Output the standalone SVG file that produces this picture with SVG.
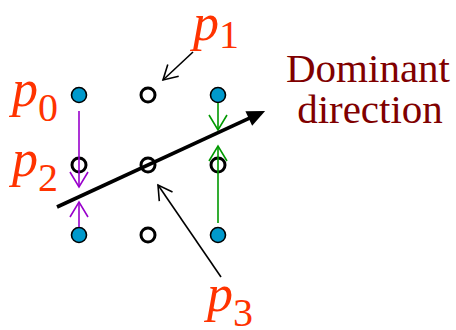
<svg xmlns="http://www.w3.org/2000/svg" width="456" height="330" viewBox="0 0 456 330">
<style>
.lbl{font-family:'Liberation Serif','DejaVu Serif',serif;fill:#FF3300;font-size:52px;font-style:italic}
.sub{font-style:normal;font-size:40px}
.title{font-family:'Liberation Serif','DejaVu Serif',serif;fill:#800000;font-size:41px;text-anchor:middle}
.dot{fill:#0099CC;stroke:#000;stroke-width:1.6}
.ring{fill:#fff;stroke:#000;stroke-width:3}
.pl{stroke:#9900CC;stroke-width:1.6;fill:none}
.gl{stroke:#009900;stroke-width:1.6;fill:none}
.bl{stroke:#000;stroke-width:1.6;fill:none}
</style>
<defs>
<marker id="cp" markerUnits="userSpaceOnUse" markerWidth="30" markerHeight="30" refX="0" refY="0" orient="auto" overflow="visible"><path d="M-15,-9 L0,0 L-15,9" fill="none" stroke="#9900CC" stroke-width="1.6"/></marker>
<marker id="cg" markerUnits="userSpaceOnUse" markerWidth="30" markerHeight="30" refX="0" refY="0" orient="auto" overflow="visible"><path d="M-15,-9 L0,0 L-15,9" fill="none" stroke="#009900" stroke-width="1.6"/></marker>
<marker id="cb" markerUnits="userSpaceOnUse" markerWidth="30" markerHeight="30" refX="0" refY="0" orient="auto" overflow="visible"><path d="M-14,-8 L0,0 L-14,8" fill="none" stroke="#000" stroke-width="1.6"/></marker>
<marker id="ab" markerUnits="userSpaceOnUse" markerWidth="30" markerHeight="30" refX="2" refY="0" orient="auto" overflow="visible"><path d="M0,-8 L18,0 L0,8 z" fill="#000"/></marker>
</defs>
<g id="nodes">
<g id="n00"><circle class="dot" cx="79" cy="95" r="7.5"/></g>
<g id="n10"><circle class="ring" cx="148" cy="95" r="7"/></g>
<g id="n20"><circle class="dot" cx="218" cy="95" r="7.5"/></g>
<g id="n01"><circle class="ring" cx="79" cy="165" r="7"/></g>
<g id="n11"><circle class="ring" cx="148" cy="165" r="7"/></g>
<g id="n21"><circle class="ring" cx="218" cy="165" r="7"/></g>
<g id="n02"><circle class="dot" cx="79" cy="235" r="7.5"/></g>
<g id="n12"><circle class="ring" cx="148" cy="235" r="7"/></g>
<g id="n22"><circle class="dot" cx="218" cy="235" r="7.5"/></g>
</g>
<g id="connectors">
<line class="pl" x1="79" y1="111" x2="79" y2="187" marker-end="url(#cp)"/>
<line class="pl" x1="79" y1="227" x2="79" y2="202" marker-end="url(#cp)"/>
<line class="gl" x1="218" y1="103" x2="218" y2="130" marker-end="url(#cg)"/>
<line class="gl" x1="218" y1="223" x2="218" y2="146" marker-end="url(#cg)"/>
<line x1="57" y1="207" x2="250.6" y2="117.6" stroke="#000" stroke-width="3.6" marker-end="url(#ab)"/>
<line class="bl" x1="193" y1="52" x2="163" y2="80" marker-end="url(#cb)"/>
<line class="bl" x1="221" y1="277" x2="158" y2="185" marker-end="url(#cb)"/>
</g>
<g id="labels">
<text class="lbl" x="12" y="106">p<tspan class="sub" dy="15">0</tspan></text>
<text class="lbl" x="12" y="176">p<tspan class="sub" dy="15">2</tspan></text>
<text class="lbl" x="193" y="40">p<tspan class="sub" dy="8">1</tspan></text>
<text class="lbl" x="207" y="311">p<tspan class="sub" dy="15">3</tspan></text>
<text class="title" x="368" y="82">Dominant</text>
<text class="title" x="370" y="123">direction</text>
</g>
</svg>
